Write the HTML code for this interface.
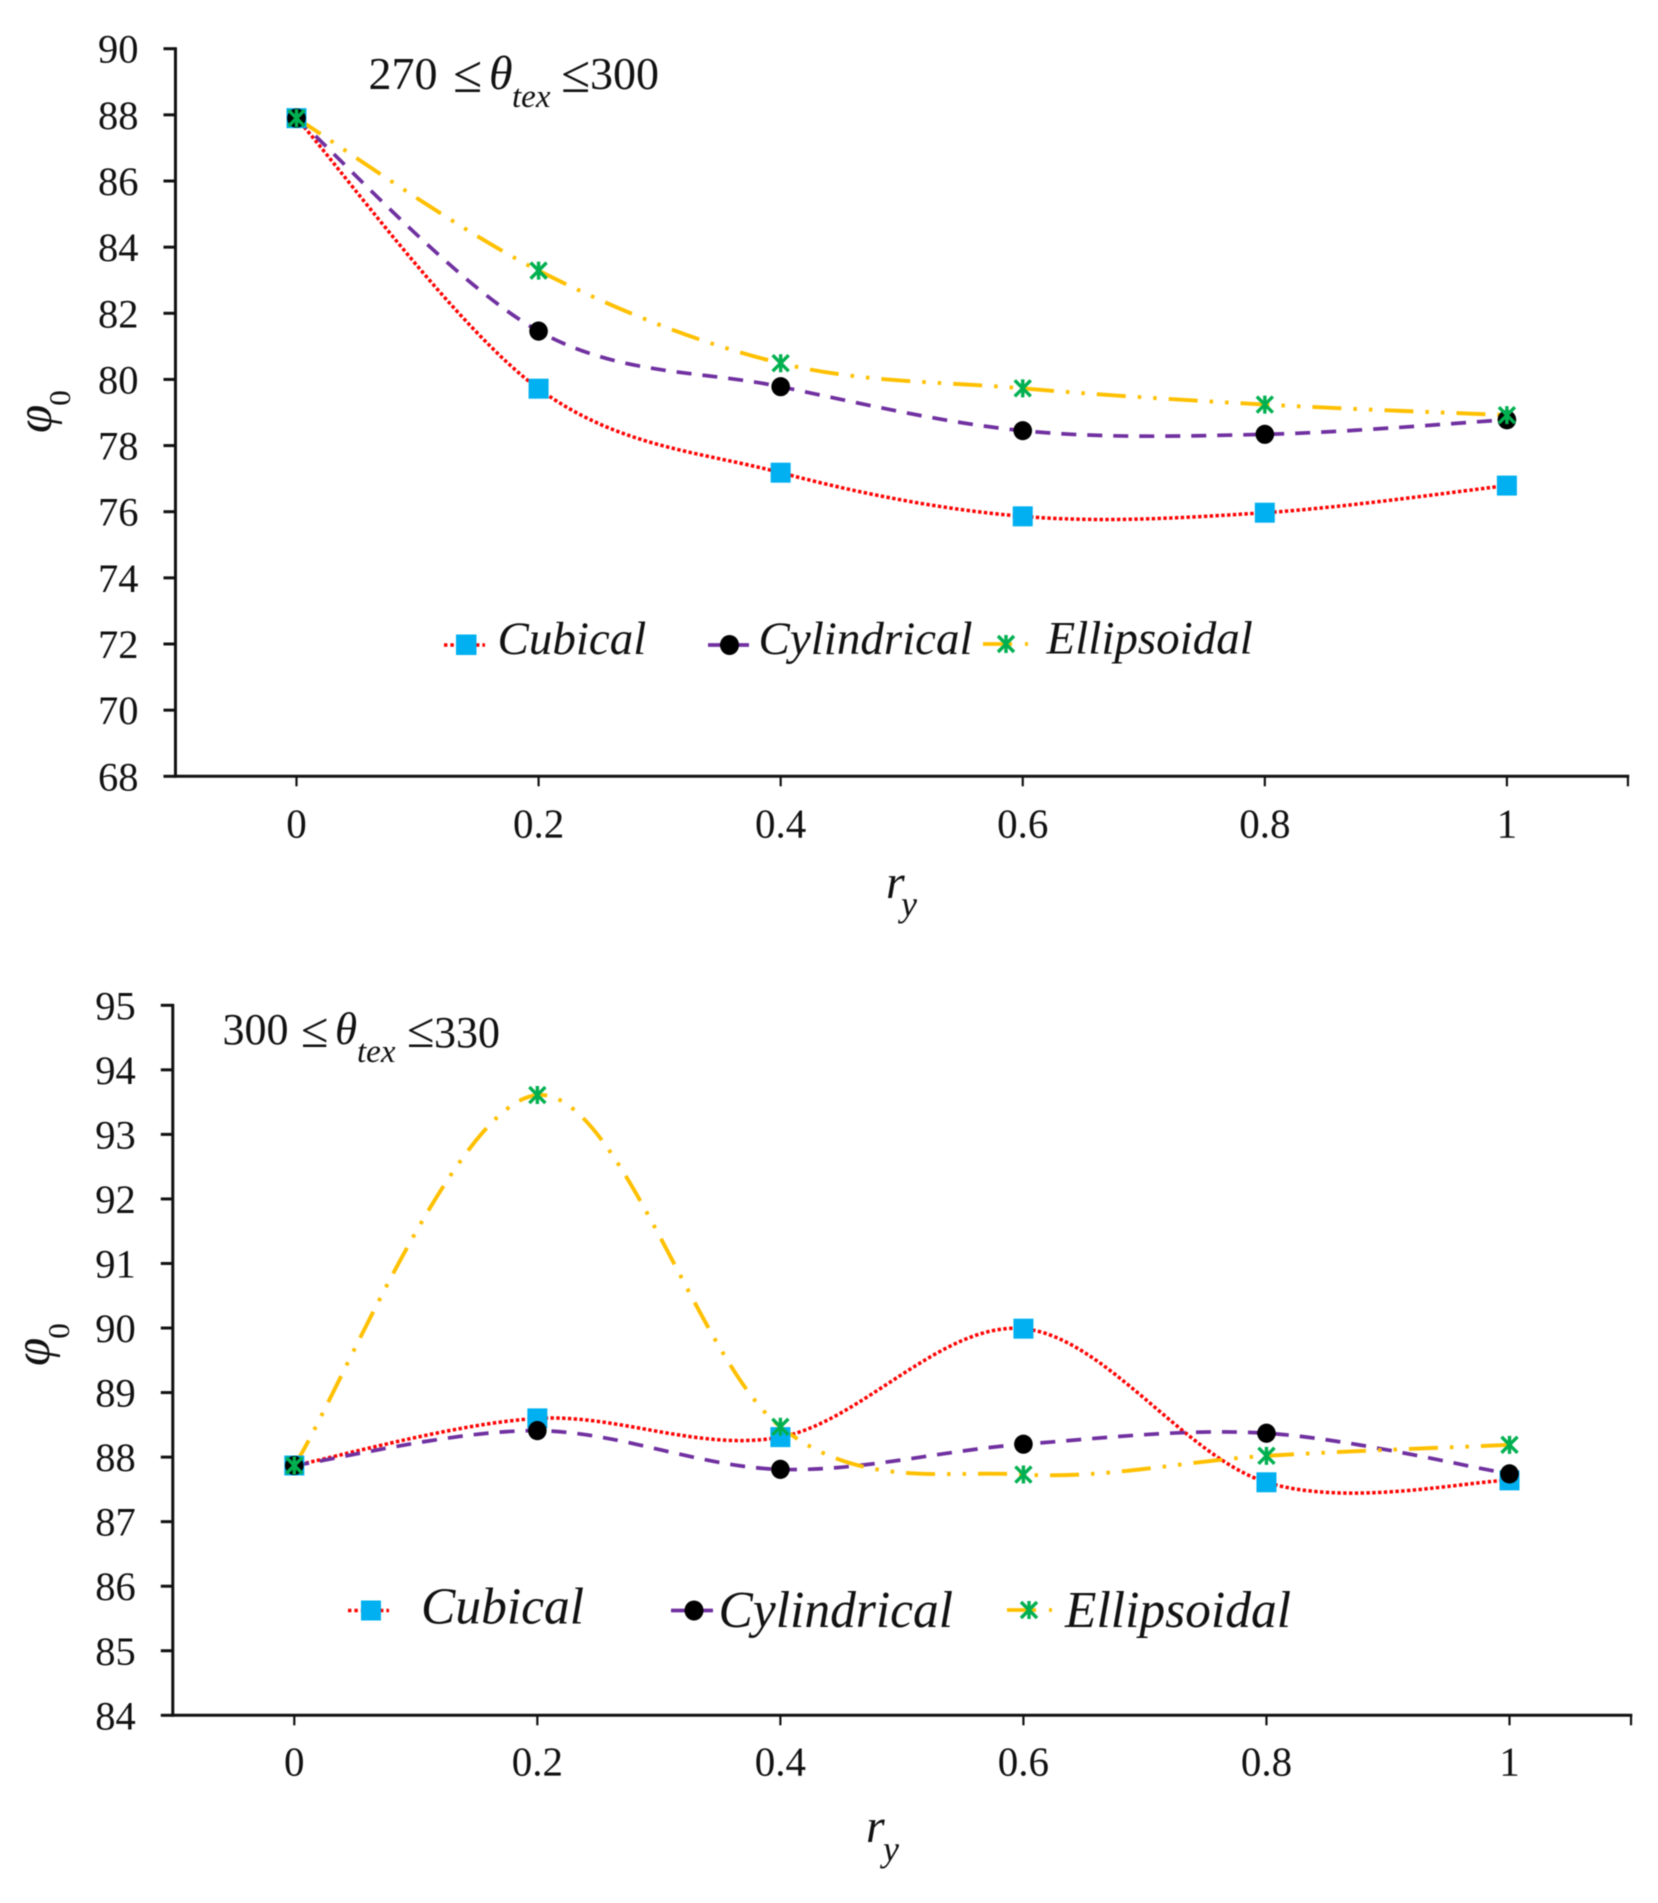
<!DOCTYPE html>
<html lang="en">
<head>
<meta charset="utf-8">
<title>Void fraction charts</title>
<style>
html,body{margin:0;padding:0;background:#fff;}
svg{display:block;filter:blur(0.6px);}
text{font-family:"Liberation Serif",serif;fill:#111;}
.it{font-style:italic;}
</style>
</head>
<body>
<svg id="figure" xmlns="http://www.w3.org/2000/svg" width="1658" height="1903" viewBox="0 0 1658 1903">
  <rect x="0" y="0" width="1658" height="1903" fill="#fff"/>

  <g id="chart-top"></g>
  <g id="chart-bottom"></g>

  <g>
    <text font-size="46" y="89"><tspan x="368.5">270</tspan><tspan x="453" y="92" font-size="53">≤</tspan><tspan x="489" y="89" class="it" font-size="48">θ</tspan><tspan x="512" y="107" class="it" font-size="33">tex</tspan><tspan x="561" y="92" font-size="53">≤</tspan><tspan x="590" y="89">300</tspan></text>
    <text font-size="48" y="898"><tspan x="886" class="it">r</tspan><tspan x="901" y="916" class="it" font-size="36">y</tspan></text>
    <text transform="translate(51,433) rotate(-90)" font-size="51"><tspan class="it">φ</tspan><tspan dx="-1" dy="19" font-size="31">0</tspan></text>
    <g>
      <g>
        <line x1="444" x2="485" y1="645" y2="645" stroke="#ff0000" stroke-width="3.4" stroke-dasharray="3.4 3"/>
        <rect x="456" y="634.5" width="20.5" height="20.5" fill="#00b0f0"/>
        <text class="it" x="497.5" y="654" font-size="47">Cubical</text>
      </g>
      <g>
        <line x1="708" x2="749" y1="645" y2="645" stroke="#7030a0" stroke-width="3.8"/>
        <ellipse cx="729.5" cy="645" rx="9.5" ry="10" fill="#000"/>
        <text class="it" x="758.5" y="654" font-size="47">Cylindrical</text>
      </g>
      <g>
        <line x1="983" x2="1028" y1="644" y2="644" stroke="#ffc000" stroke-width="3.8" stroke-dasharray="29 13 3 13"/>
        <path d="M998 636L1014 652M1014 636L998 652M1006 635V653" stroke="#00b050" stroke-width="3.4" fill="none"/>
        <text class="it" x="1046.5" y="653.5" font-size="47">Ellipsoidal</text>
      </g>
    </g>
  </g>

  <g>
    <text font-size="44" y="1044"><tspan x="222.5">300</tspan><tspan x="301" y="1047" font-size="50">≤</tspan><tspan x="335" y="1044" class="it" font-size="45">θ</tspan><tspan x="357" y="1062" class="it" font-size="33">tex</tspan><tspan x="407" y="1047" font-size="50">≤</tspan><tspan x="434">330</tspan></text>
    <text font-size="48" y="1842"><tspan x="866" class="it">r</tspan><tspan x="883" y="1861" class="it" font-size="36">y</tspan></text>
    <text transform="translate(49,1366) rotate(-90)" font-size="51"><tspan class="it">φ</tspan><tspan dx="-1" dy="20" font-size="31">0</tspan></text>
    <g>
      <g>
        <line x1="348" x2="389" y1="1610.5" y2="1610.5" stroke="#ff0000" stroke-width="3.4" stroke-dasharray="3.4 3"/>
        <rect x="361" y="1600.5" width="20" height="20" fill="#00b0f0"/>
        <text class="it" x="421" y="1623.5" font-size="51.5">Cubical</text>
      </g>
      <g>
        <line x1="671" x2="713" y1="1610.5" y2="1610.5" stroke="#7030a0" stroke-width="3.8"/>
        <ellipse cx="694" cy="1610.5" rx="9.5" ry="10" fill="#000"/>
        <text class="it" x="718.5" y="1627" font-size="51.5">Cylindrical</text>
      </g>
      <g>
        <line x1="1007" x2="1052" y1="1610" y2="1610" stroke="#ffc000" stroke-width="3.8" stroke-dasharray="29 13 3 13"/>
        <path d="M1021 1602L1037 1618M1037 1602L1021 1618M1029 1601V1619" stroke="#00b050" stroke-width="3.4" fill="none"/>
        <text class="it" x="1065" y="1627" font-size="51.5">Ellipsoidal</text>
      </g>
    </g>
  </g>
</svg>

<script>
const categories = [0, 0.2, 0.4, 0.6, 0.8, 1];
const xTickLabels = ['0', '0.2', '0.4', '0.6', '0.8', '1'];

const topYTicks = [90, 88, 86, 84, 82, 80, 78, 76, 74, 72, 70, 68];
const topCubical = [87.9, 79.72, 77.18, 75.86, 75.97, 76.79];
const topCylindrical = [87.9, 81.46, 79.78, 78.45, 78.34, 78.78];
const topEllipsoidal = [87.9, 83.29, 80.49, 79.73, 79.24, 78.92];

const bottomYTicks = [95, 94, 93, 92, 91, 90, 89, 88, 87, 86, 85, 84];
const bottomCubical = [87.87, 88.6, 88.31, 89.99, 87.61, 87.64];
const bottomCylindrical = [87.87, 88.41, 87.81, 88.2, 88.37, 87.74];
const bottomEllipsoidal = [87.87, 93.61, 88.47, 87.73, 88.02, 88.19];

const SVG_NS = 'http://www.w3.org/2000/svg';

function linearScale(d0, d1, r0, r1) {
  return function (v) { return r0 + (v - d0) * (r1 - r0) / (d1 - d0); };
}

function make(tag, parent, props) {
  const el = document.createElementNS(SVG_NS, tag);
  for (const k in props) el.setAttribute(k, props[k]);
  parent.appendChild(el);
  return el;
}

function smoothPath(xs, ys) {
  let d = 'M' + xs[0] + ' ' + ys[0];
  const n = xs.length;
  for (let i = 0; i < n - 1; i++) {
    const p = Math.max(i - 1, 0), q = Math.min(i + 2, n - 1);
    const c1x = xs[i] + (xs[i + 1] - xs[p]) / 6;
    const c1y = ys[i] + (ys[i + 1] - ys[p]) / 6;
    const c2x = xs[i + 1] - (xs[q] - xs[i]) / 6;
    const c2y = ys[i + 1] - (ys[q] - ys[i]) / 6;
    d += 'C' + c1x + ' ' + c1y + ' ' + c2x + ' ' + c2y + ' ' + xs[i + 1] + ' ' + ys[i + 1];
  }
  return d;
}

function drawSquare(parent, x, y) {
  const el = make('rect', parent, { x: x - 10, y: y - 10, width: 20, height: 20, fill: '#00b0f0' });
  
  
}

function drawCircle(parent, x, y) {
  const el = make('ellipse', parent, { cx: x, cy: y, rx: 9.3, ry: 9.6, fill: '#000' });
  
  
}

function drawStar(parent, x, y) {
  const d = 'M' + (x - 8) + ' ' + (y - 8) + 'L' + (x + 8) + ' ' + (y + 8) +
            'M' + (x + 8) + ' ' + (y - 8) + 'L' + (x - 8) + ' ' + (y + 8) +
            'M' + x + ' ' + (y - 9) + 'V' + (y + 9);
  const el = make('path', parent, { d: d, stroke: '#00b050', 'stroke-width': 3.4, fill: 'none' });
  
  
}

function drawChart(root, cfg) {
  const xOf = linearScale(0, 1, cfg.x0, cfg.x1);
  const yOf = linearScale(cfg.yMin, cfg.yMax, cfg.yBottom, cfg.yTop);
  const axisLeft = xOf(-0.1), axisRight = xOf(1.1);

  const yAxis = make('line', root, { x1: axisLeft, x2: axisLeft, y1: yOf(cfg.yMax) - 1.4, y2: yOf(cfg.yMin) + 1.4, stroke: '#111', 'stroke-width': 3 });
  
  

  const xAxis = make('line', root, { x1: axisLeft, x2: axisRight + 1.3, y1: yOf(cfg.yMin), y2: yOf(cfg.yMin), stroke: '#111', 'stroke-width': 3 });
  
  

  cfg.yTicks.forEach(function (t) {
    const tick = make('line', root, { x1: axisLeft - 12, x2: axisLeft, y1: yOf(t), y2: yOf(t), stroke: '#111', 'stroke-width': 3 });
    
    
    const label = make('text', root, { x: axisLeft - 37, y: yOf(t) + 14, 'font-size': 40.5, 'text-anchor': 'end' });
    label.textContent = String(t);
    
    
  });

  categories.forEach(function (c, i) {
    const tick = make('line', root, { x1: xOf(c), x2: xOf(c), y1: yOf(cfg.yMin), y2: yOf(cfg.yMin) + 10, stroke: '#111', 'stroke-width': 2.2 });
    
    
    const label = make('text', root, { x: xOf(c), y: yOf(cfg.yMin) + cfg.labelOffset, 'font-size': 41, 'text-anchor': 'middle' });
    label.textContent = xTickLabels[i];
    
    
  });

  const endTick = make('line', root, { x1: axisRight, x2: axisRight, y1: yOf(cfg.yMin), y2: yOf(cfg.yMin) + 10, stroke: '#111', 'stroke-width': 2.2 });
  
  

  const xs = categories.map(xOf);

  const redLine = make('path', root, { d: smoothPath(xs, cfg.cubical.map(yOf)), fill: 'none', stroke: '#ff0000', 'stroke-width': 3.5, 'stroke-dasharray': '3.4 2.4' });
  
  

  const purpleLine = make('path', root, { d: smoothPath(xs, cfg.cylindrical.map(yOf)), fill: 'none', stroke: '#7030a0', 'stroke-width': 3.7, 'stroke-dasharray': '15 11' });
  
  

  const yellowLine = make('path', root, { d: smoothPath(xs, cfg.ellipsoidal.map(yOf)), fill: 'none', stroke: '#ffc000', 'stroke-width': 3.9, 'stroke-dasharray': '29 12 3.5 12 3.5 12' });
  
  

  categories.forEach(function (c, i) { drawSquare(root, xOf(c), yOf(cfg.cubical[i])); });
  categories.forEach(function (c, i) { drawCircle(root, xOf(c), yOf(cfg.cylindrical[i])); });
  categories.forEach(function (c, i) { drawStar(root, xOf(c), yOf(cfg.ellipsoidal[i])); });
}

drawChart(document.getElementById('chart-top'), {
  x0: 296.5, x1: 1506.9, yMin: 68, yMax: 90, yBottom: 776.3, yTop: 48.7, labelOffset: 61,
  yTicks: topYTicks, cubical: topCubical, cylindrical: topCylindrical, ellipsoidal: topEllipsoidal
});

drawChart(document.getElementById('chart-bottom'), {
  x0: 294.3, x1: 1509.5, yMin: 84, yMax: 95, yBottom: 1715.3, yTop: 1005.3, labelOffset: 60,
  yTicks: bottomYTicks, cubical: bottomCubical, cylindrical: bottomCylindrical, ellipsoidal: bottomEllipsoidal
});
</script>
</body>
</html>
